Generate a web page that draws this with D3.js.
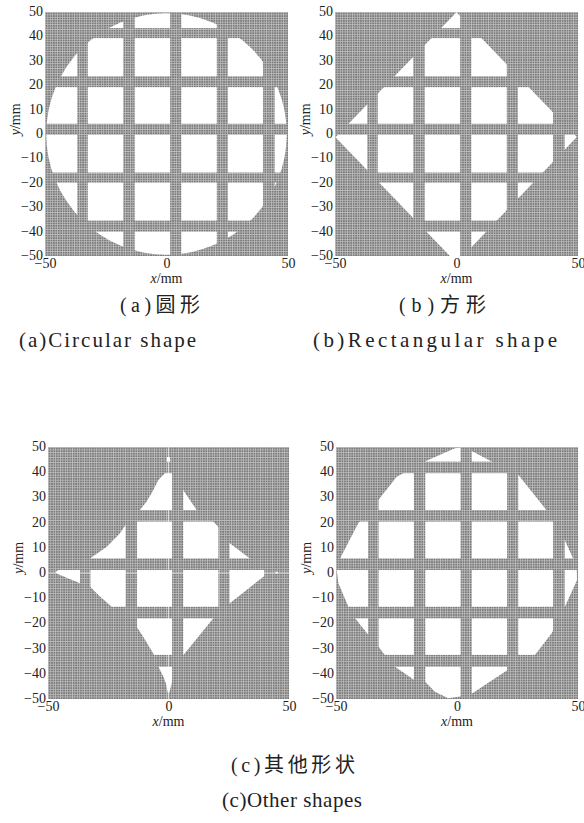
<!DOCTYPE html>
<html><head><meta charset="utf-8">
<script src="https://cdn.jsdelivr.net/npm/d3@7"></script>
<style>
body{margin:0;background:#fff;}
svg text{font-family:"Liberation Serif","Times New Roman",serif;fill:#222;}
.cap{font-family:"Liberation Serif","Noto Sans CJK SC",serif;}
</style></head><body>
<svg id="fig" width="584" height="823"></svg>
<script>
// Tick values shared by every panel
const xTicks = [-50, 0, 50];
const yTicks = [50, 40, 30, 20, 10, 0, -10, -20, -30, -40, -50];

// Solid (meshed) support ribs, as [from, to] in mm
const colRibs = [[-36.7, -32.4], [-17.8, -13.1], [1.5, 6.1], [20.7, 25.3], [39.7, 44.5]];
const rowRibsUpper = [[39.3, 43.4], [19.2, 23.6], [-0.3, 4.2], [-19.9, -15.8], [-40.0, -35.5]];
const rowRibsLower = [[39.6, 44.2], [20.4, 25.0], [1.2, 5.8], [-18.0, -13.4], [-37.2, -32.5]];

// Outline of the cut-out region in each panel (mm)
const circleOutline = {cx: 0, cy: 0, r: 49.5};
const diamondOutline = [[0, 49.9], [49.5, -1.2], [0, -52.8], [-49.8, -1.3]];
const otherOutline = [
  [-0.6, 46], [0.6, 46], [1.2, 40], [6, 33], [11.7, 25], [18.6, 20.4], [20.8, 18.2],
  [25.4, 11.8], [33.8, 5.8], [40.5, 1.5], [44, 0.8], [45.6, 0.2], [44, -0.6], [39.3, -1.5],
  [32.4, -6.7], [25.4, -12], [18.6, -18], [6.2, -32.5], [3, -37], [1, -45], [0.3, -47.5],
  [-0.3, -47.5], [-1, -44], [-2.1, -41.2], [-4.2, -37.2], [-6.3, -31.9], [-10.5, -25.3],
  [-13.2, -21.3], [-16, -17], [-23.6, -13.4], [-29.1, -8.7], [-33, -5], [-36.7, -4.1],
  [-45.7, -0.5], [-47, 0.3], [-45.7, 1.2], [-37, 4.5], [-32.6, 5.8], [-25.6, 10.4],
  [-20.1, 15.8], [-18.1, 18.7], [-11.9, 25], [-9.1, 28.3], [-6.3, 32.9], [-4.2, 36.9],
  [-1.5, 39.6], [-0.8, 43]
];
const roundedOutline = [
  [-32.5, 29], [-24.9, 38.2], [-13.3, 44.2], [-0.8, 49.5], [2, 49.8], [5.3, 48.8],
  [14.3, 44.2], [25.3, 39], [37.1, 24.8], [43.9, 14.4], [48, 5.8], [49.5, 1.2],
  [49.6, -2.8], [44.6, -13.4], [39.1, -23.9], [32.2, -32.5], [19.8, -39.2], [5.3, -48.4],
  [-3.6, -49.7], [-9.1, -47.1], [-13.3, -43.1], [-18.1, -42.2], [-25.6, -37.2],
  [-29.8, -32.5], [-32.5, -29.2], [-36.6, -24.6], [-42.1, -18], [-44.9, -13.4],
  [-49, -4.1], [-49.7, 1.2], [-48.3, 5.8], [-40.8, 19.7]
];

// Captions
const captions = [
  {text: "(a)圆形", x: 120, y: 312, w: 80, size: 20},
  {text: "(a)Circular shape", x: 19, y: 347, w: 177, size: 21},
  {text: "(b)方形", x: 399, y: 312, w: 87, size: 20},
  {text: "(b)Rectangular shape", x: 313, y: 347, w: 244, size: 21},
  {text: "(c)其他形状", x: 231, y: 772, w: 124, size: 20},
  {text: "(c)Other shapes", x: 222, y: 807, w: 140, size: 21}
];

const panels = [
  {id: "a", x0: 45, x1: 288, y0: 12, y1: 256, rows: rowRibsUpper, circle: circleOutline},
  {id: "b", x0: 335, x1: 578, y0: 12, y1: 256, rows: rowRibsUpper, poly: diamondOutline},
  {id: "c", x0: 48, x1: 289, y0: 447, y1: 699, rows: rowRibsLower, poly: otherOutline, centreLines: true},
  {id: "d", x0: 336, x1: 578, y0: 447, y1: 699, rows: rowRibsLower, poly: roundedOutline}
];

// Openings lie between consecutive ribs
function openings(ribs) {
  const sorted = ribs.slice().sort((a, b) => a[0] - b[0]);
  const out = [];
  let start = -50;
  sorted.forEach(r => { out.push([start, r[0]]); start = r[1]; });
  out.push([start, 50]);
  return out;
}

const svg = d3.select("#fig");
const defs = svg.append("defs");
const fmt = d => d < 0 ? "\u2212" + (-d) : String(d);

panels.forEach(p => {
  const x = d3.scaleLinear().domain([-50, 50]).range([p.x0, p.x1]);
  const y = d3.scaleLinear().domain([-50, 50]).range([p.y1, p.y0]);
  const pw = x(1) - x(0), ph = y(0) - y(1);

  // fine mesh texture
  const pat = defs.append("pattern").attr("id", "mesh-" + p.id)
    .attr("patternUnits", "userSpaceOnUse")
    .attr("x", p.x0).attr("y", p.y0).attr("width", pw).attr("height", ph);
  pat.append("rect").attr("width", pw).attr("height", ph).attr("fill", "#7a7a7a");
  pat.append("rect").attr("width", pw).attr("height", 0.7).attr("fill", "#c2c2c2");
  pat.append("rect").attr("width", 0.7).attr("height", ph).attr("fill", "#c2c2c2");

  // outline clip
  const clip = defs.append("clipPath").attr("id", "outline-" + p.id);
  if (p.circle) {
    clip.append("ellipse")
      .attr("cx", x(p.circle.cx)).attr("cy", y(p.circle.cy))
      .attr("rx", x(p.circle.r) - x(0)).attr("ry", y(0) - y(p.circle.r));
  } else {
    clip.append("path").attr("d", d3.line().x(d => x(d[0])).y(d => y(d[1]))(p.poly) + "Z");
  }

  const g = svg.append("g");
  g.append("rect").attr("x", p.x0).attr("y", p.y0)
    .attr("width", p.x1 - p.x0).attr("height", p.y1 - p.y0)
    .attr("fill", "url(#mesh-" + p.id + ")");

  if (p.centreLines) {
    g.append("line").attr("x1", x(0)).attr("x2", x(0)).attr("y1", p.y0).attr("y2", p.y1)
      .attr("stroke", "#dcdcdc").attr("stroke-width", 1.2);
    g.append("line").attr("x1", p.x0).attr("x2", p.x1).attr("y1", y(0)).attr("y2", y(0))
      .attr("stroke", "#dcdcdc").attr("stroke-width", 1.2);
  }

  const cells = [];
  openings(colRibs).forEach(c => openings(p.rows).forEach(r => cells.push({c, r})));
  g.append("g").attr("clip-path", "url(#outline-" + p.id + ")")
    .selectAll("rect").data(cells).join("rect")
    .attr("x", d => x(d.c[0])).attr("width", d => x(d.c[1]) - x(d.c[0]))
    .attr("y", d => y(d.r[1])).attr("height", d => y(d.r[0]) - y(d.r[1]))
    .attr("fill", "#fff");

  // axes
  const ay = g.append("g").attr("transform", `translate(${p.x0},-1)`)
    .call(d3.axisLeft(y).tickValues(yTicks).tickSize(0).tickPadding(2).tickFormat(fmt));
  const ax = g.append("g").attr("transform", `translate(0,${p.y1})`)
    .call(d3.axisBottom(x).tickValues(xTicks).tickSize(0).tickPadding(2).tickFormat(fmt));
  [ay, ax].forEach(a => {
    a.select(".domain").remove();
    a.selectAll("text").attr("font-size", 14).attr("fill", "#222")
      .attr("font-family", "Liberation Serif, serif");
  });

  const xl = g.append("text").attr("x", (p.x0 + p.x1) / 2).attr("y", p.y1 + 27)
    .attr("text-anchor", "middle").attr("font-size", 14);
  xl.append("tspan").attr("font-style", "italic").text("x");
  xl.append("tspan").text("/mm");

  const ycy = p.y0 + (p.y1 - p.y0) * 0.44;
  const yl = g.append("text").attr("transform", `translate(${p.x0 - 25},${ycy}) rotate(-90)`)
    .attr("text-anchor", "middle").attr("font-size", 14);
  yl.append("tspan").attr("font-style", "italic").text("y");
  yl.append("tspan").text("/mm");
});

svg.selectAll("text.cap").data(captions).join("text")
  .attr("class", "cap")
  .attr("x", d => d.x).attr("y", d => d.y)
  .attr("font-size", d => d.size)
  .attr("textLength", d => d.w).attr("lengthAdjust", "spacing")
  .text(d => d.text);
</script>
</body></html>
